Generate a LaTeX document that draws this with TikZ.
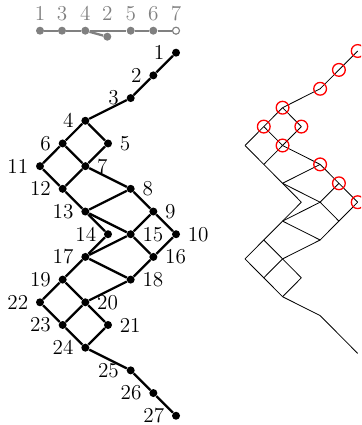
\documentclass[tikz,border=0pt]{standalone}
\definecolor{graycol}{RGB}{128,128,128}
\begin{document}
\begin{tikzpicture}[x=0.613pt,y=-0.613pt,
  every label/.style={font=\fontsize{13}{15}\selectfont,inner sep=3.2pt},
  dot/.style={circle,fill=black,inner sep=0pt,minimum size=4.9pt},
  gdot/.style={circle,fill=graycol,inner sep=0pt,minimum size=4.9pt},
  hdot/.style={circle,fill=white,draw=graycol,line width=0.7pt,inner sep=0pt,minimum size=4.3pt},
  thick edge/.style={line width=1.4pt},
  gedge/.style={line width=1.4pt,draw=graycol},
  thin edge/.style={line width=0.5pt},
  ring/.style={draw=red,line width=0.8pt},
  lab/.style={label distance=1.2pt},
  glab/.style={text=graycol,font=\fontsize{13}{15}\selectfont,inner sep=0pt}]
\clip (0,0) rectangle (361,425);
% top gray graph
\foreach \n/\x in {1/40,3/62,4/85.3,5/130.7,6/153.3}
  \node[gdot] (T\n) at (\x,30.7) {};
\node[gdot] (T2) at (107.3,36.7) {};
\node[hdot] (T7) at (176,30.7) {};
\foreach \n/\x in {1/40,3/62,4/85.3,2/107.3,5/130.7,6/153.3,7/176}
  \node[glab] (TL\n) at (\x,13.3) {\n};
\draw[gedge] (T1) -- (T3) -- (T4) -- (T5) -- (T6) -- (T7);
\draw[gedge] (T4) -- (T2);
% left graph
\foreach \n/\i/\l/\p in {1/6/0/left,2/5/1/left,3/4/2/left,4/2/3/left,5/3/4/right,6/1/4/left,
  7/2/5/right,11/0/5/left,8/4/6/right,12/1/6/left,9/5/7/right,13/2/7/left,10/6/8/right,
  14/3/8/left,15/4/8/right,16/5/9/right,17/2/9/left,18/4/10/right,19/1/10/left,
  20/2/11/right,22/0/11/left,21/3/12/right,23/1/12/left,24/2/13/left,25/4/14/left,
  26/5/15/left,27/6/16/left}
  \node[dot,label={[lab]\p:\n}] (L\n) at ({40+22.67*\i},{52.7+22.69*\l}) {};
\foreach \a/\b in {1/2,2/3,3/4,4/6,4/5,6/11,6/7,5/7,11/12,7/12,7/8,12/13,8/13,8/9,
  13/14,13/15,9/15,9/10,15/16,10/16,14/17,15/17,17/19,17/18,16/18,19/22,19/20,18/20,
  22/23,20/23,20/21,23/24,21/24,24/25,25/26,26/27}
  \draw[thick edge] (L\a) -- (L\b);
% right graph
\foreach \n/\i/\l in {1/6/0,2/5/1,3/4/2,4/2/3,5/3/4,6/1/4,
  7/2/5,11/0/5,8/4/6,12/1/6,9/5/7,13/2/7,10/6/8,
  14/3/8,15/4/8,16/5/9,17/2/9,18/4/10,19/1/10,
  20/2/11,22/0/11,21/3/12,23/1/12,24/2/13,25/4/14,
  26/5/15,27/6/16}
  \coordinate (R\n) at ({245+18.78*\i},{51+18.9*\l});
\foreach \a/\b in {1/2,2/3,3/4,4/6,4/5,6/11,6/7,5/7,11/12,7/12,7/8,12/13,8/13,8/9,
  13/14,13/15,9/15,9/10,15/16,10/16,14/17,15/17,17/19,17/18,16/18,19/22,19/20,18/20,
  22/23,20/23,20/21,23/24,21/24,24/25,25/26,26/27}
  \draw[thin edge] (R\a) -- (R\b);
\foreach \n in {1,...,10}
  \draw[ring] (R\n) circle[radius=3.9pt];
\end{tikzpicture}
\end{document}
